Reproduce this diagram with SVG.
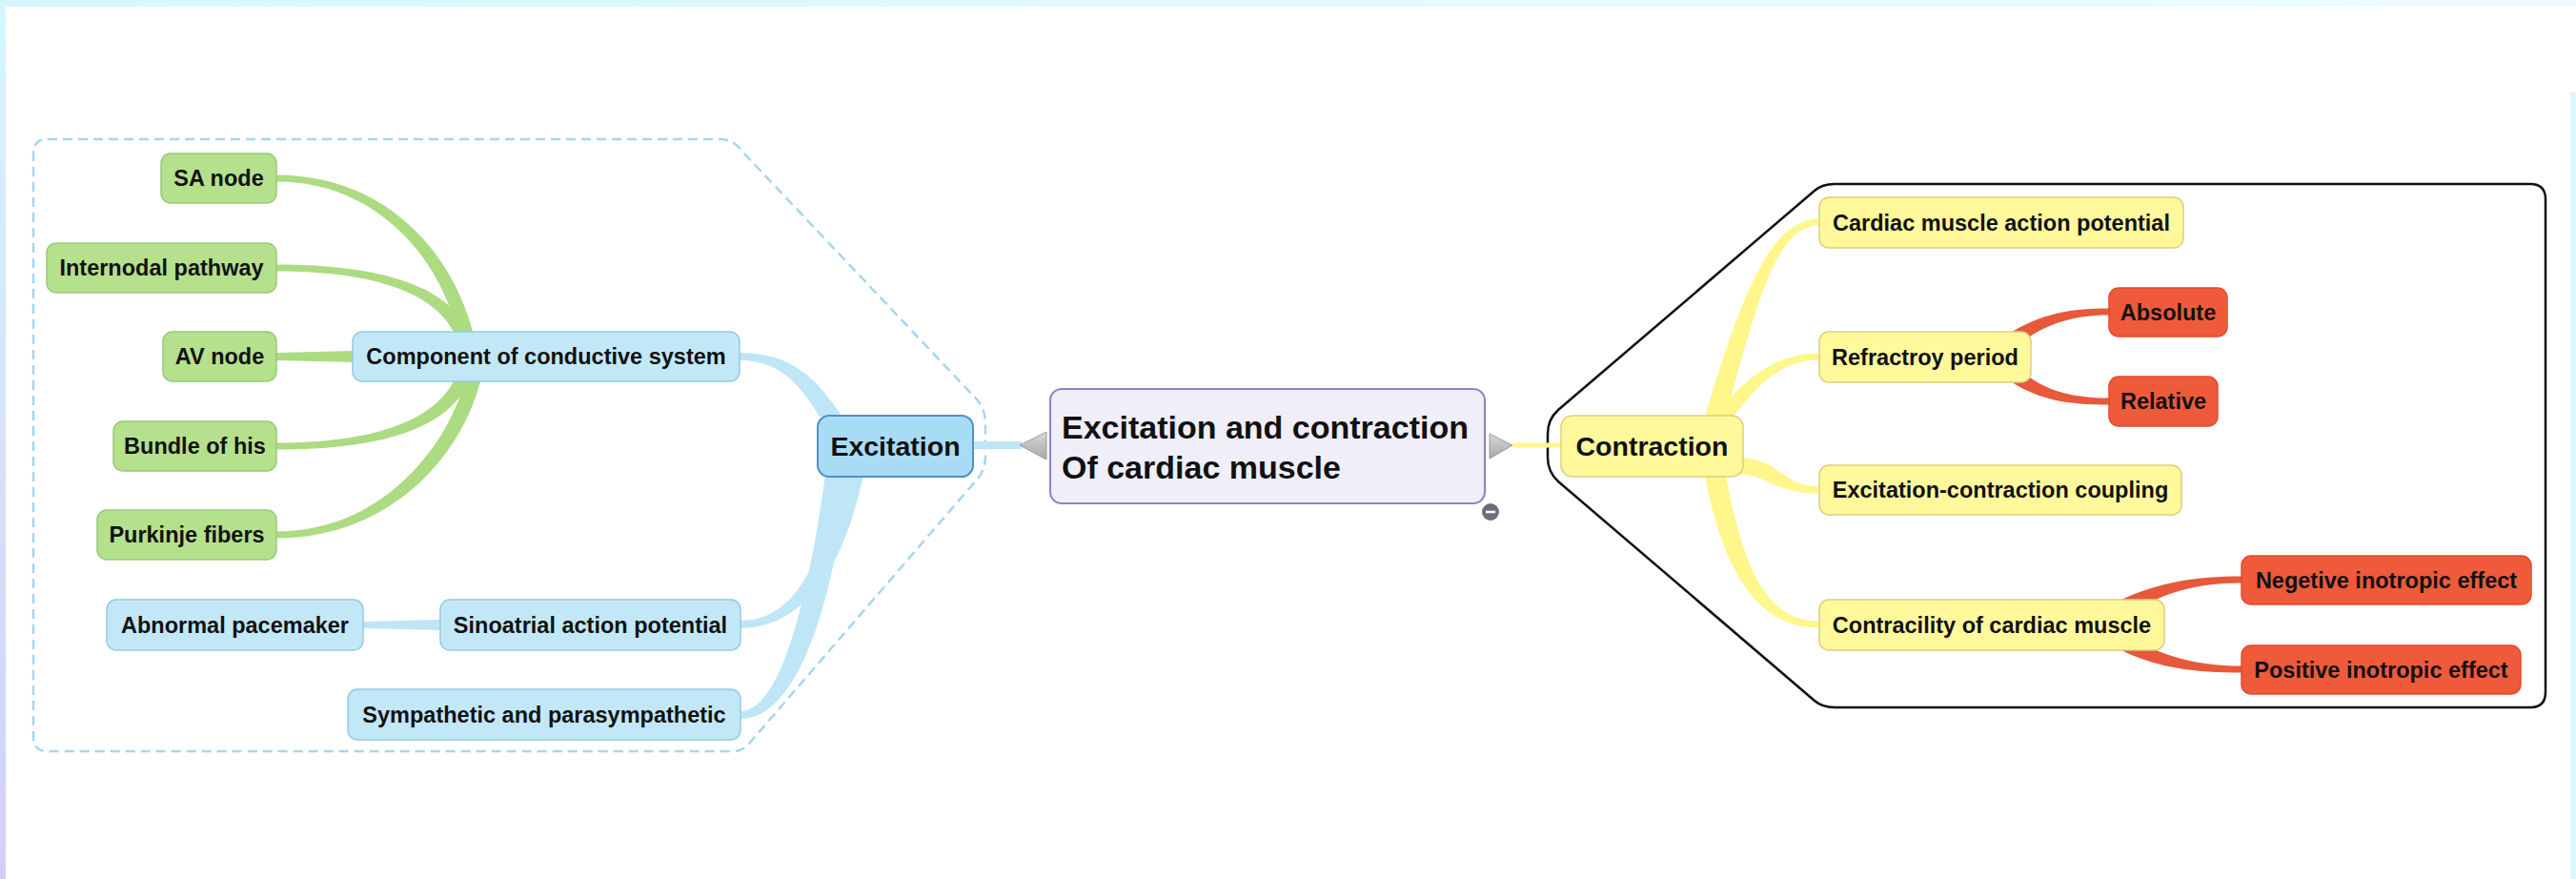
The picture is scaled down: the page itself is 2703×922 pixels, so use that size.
<svg xmlns="http://www.w3.org/2000/svg" width="2703" height="922" viewBox="0 0 2703 922">
<defs>
<linearGradient id="leftEdge" x1="0" y1="0" x2="0" y2="1"><stop offset="0" stop-color="#d6f6ff"/><stop offset="1" stop-color="#d2cff5"/></linearGradient>
<linearGradient id="topEdge" x1="0" y1="0" x2="1" y2="0"><stop offset="0" stop-color="#d6f6ff"/><stop offset="1" stop-color="#eefcff"/></linearGradient>
<linearGradient id="tri" x1="0" y1="0" x2="0" y2="1"><stop offset="0" stop-color="#d8d8d8"/><stop offset="1" stop-color="#a8a8a8"/></linearGradient>
<style>
.t{font-family:"Liberation Sans",Arial,sans-serif;font-weight:bold;fill:#111;text-anchor:middle;dominant-baseline:central}
.s{font-size:23.5px}
.green{fill:#b5e08c;stroke:#98c97a;stroke-width:1.5}
.blue{fill:#c2e8f7;stroke:#93cbe0;stroke-width:1.5}
.yellow{fill:#fff99c;stroke:#e0cd7c;stroke-width:1.5}
.red{fill:#ee5a3a;stroke:#e44a2d;stroke-width:1.5}
.cg{fill:#acdb82}
.cb{fill:#bfe6f6}
.cy{fill:#fff68c}
.cr{fill:#e8583a}
</style>
</defs>
<rect width="2703" height="922" fill="#ffffff"/>
<rect x="0" y="0" width="2703" height="7" fill="url(#topEdge)"/>
<rect x="0" y="0" width="6" height="922" fill="url(#leftEdge)"/>
<rect x="2697" y="97" width="6" height="825" fill="#dcf8fc"/>

<g id="boundaries">
<path d="M50,146 L755,146 Q770,146 778,158 L1026,420 Q1034,430 1034,445 L1034,478 Q1034,492 1026,502 L786,780 Q780,788 768,788 L50,788 Q35,788 35,773 L35,161 Q35,146 50,146 Z" fill="none" stroke="#a6d6ee" stroke-width="2.5" stroke-dasharray="10,6"/>
<path d="M1925,193 L2655,193 Q2671,193 2671,209 L2671,726 Q2671,742 2655,742 L1925,742 Q1912,742 1904,735 L1635,505 Q1624,495 1624,480 L1624,455 Q1624,440 1635,430 L1904,200 Q1912,193 1925,193 Z" fill="none" stroke="#111" stroke-width="2.5"/>
</g>

<g id="connectors">
<path class="cg" d="M290,183.5 C409,183.5 476,270 496,348 L480,348 C462,275 399,190.5 290,190.5 Z"/>
<path class="cg" d="M290,277.5 C400,277.5 470,300 492,348 L476,348 C455,308 395,284.5 290,284.5 Z"/>
<path class="cg" d="M290,370 L372,368 L372,380 L290,378 Z"/>
<path class="cg" d="M290,464.5 C395,464.5 455,440 476,400 L492,400 C470,450 400,471.5 290,471.5 Z"/>
<path class="cg" d="M290,557.5 C400,557.5 468,470 488,400 L504,400 C484,478 410,564.5 290,564.5 Z"/>
<path class="cb" d="M776,370 C830,370 855,395 884,437 L860,437 C840,405 820,378 776,378 Z"/>
<path class="cb" d="M777,651 C830,651 860,600 882,498 L906,498 C885,600 840,659 777,659 Z"/>
<path class="cb" d="M777,746 C815,746 845,650 866,498 L890,498 C870,660 830,754 777,754 Z"/>
<path class="cb" d="M381,652 L462,650 L462,661 L381,659 Z"/>
<path class="cb" d="M1021,463 L1072,463 L1072,471 L1021,471 Z"/>
<path class="cy" d="M1587,464.5 L1638,464.5 L1638,469.5 L1587,469.5 Z"/>
<path class="cy" d="M1909,229.5 C1860,229.5 1830,300 1789,437 L1811,437 C1845,310 1865,236.5 1909,236.5 Z"/>
<path class="cy" d="M1909,370.5 C1860,370.5 1830,400 1797,437 L1819,437 C1840,410 1865,377.5 1909,377.5 Z"/>
<path class="cy" d="M1826,480 C1870,482 1870,510.5 1909,510.5 L1909,517.5 C1862,517.5 1858,500 1826,497 Z"/>
<path class="cy" d="M1909,651.5 C1855,651.5 1830,600 1811,499 L1789,499 C1810,610 1850,658.5 1909,658.5 Z"/>
<path class="cr" d="M2213,323.5 C2170,323.5 2140,330 2108,350 L2130,353 C2150,340 2175,330.5 2213,330.5 Z"/>
<path class="cr" d="M2213,417.5 C2175,417.5 2150,410 2130,396 L2108,399 C2140,420 2170,424.5 2213,424.5 Z"/>
<path class="cr" d="M2352,604.5 C2300,604.5 2260,612 2222,631 L2258,631 C2280,620 2310,611.5 2352,611.5 Z"/>
<path class="cr" d="M2352,698.5 C2310,698.5 2280,690 2258,680 L2222,680 C2260,700 2300,705.5 2352,705.5 Z"/>
<polygon points="1070,467 1098,453 1098,482" fill="url(#tri)" stroke="#9a9a9a" stroke-width="1"/>
<polygon points="1587,467 1563,455 1563,481" fill="url(#tri)" stroke="#9a9a9a" stroke-width="1"/>
</g>

<g id="central">
<rect x="1102" y="408" width="456" height="120" rx="12" fill="#efeef9" stroke="#8a83c9" stroke-width="2"/>
<text class="t" x="1114" y="448" font-size="34" style="text-anchor:start">Excitation and contraction</text>
<text class="t" x="1114" y="490" font-size="34" style="text-anchor:start">Of cardiac muscle</text>
<circle cx="1564" cy="537" r="9" fill="#6e6e7a"/>
<line x1="1559" y1="537" x2="1569" y2="537" stroke="#fff" stroke-width="2.5"/>
</g>

<g id="excitation">
<rect x="858" y="436" width="163" height="64" rx="12" fill="#a8dcf5" stroke="#4a90d0" stroke-width="2"/>
<text class="t" x="939.5" y="468" font-size="28.5">Excitation</text>
</g>
<g id="contraction">
<rect x="1638" y="436" width="191" height="64" rx="12" fill="#fff99c" stroke="#e0cd7c" stroke-width="1.5"/>
<text class="t" x="1733.5" y="468" font-size="28.5">Contraction</text>
</g>

<g id="sa-node"><rect class="green" x="169" y="161" width="121" height="52" rx="10"/><text class="t s" x="229.5" y="187">SA node</text></g>
<g id="internodal-pathway"><rect class="green" x="49" y="255" width="241" height="52" rx="10"/><text class="t s" x="169.5" y="281">Internodal pathway</text></g>
<g id="av-node"><rect class="green" x="171" y="348" width="119" height="52" rx="10"/><text class="t s" x="230.5" y="374">AV node</text></g>
<g id="bundle-of-his"><rect class="green" x="119" y="442" width="171" height="52" rx="10"/><text class="t s" x="204.5" y="468">Bundle of his</text></g>
<g id="purkinje-fibers"><rect class="green" x="102" y="535" width="188" height="52" rx="10"/><text class="t s" x="196" y="561">Purkinje fibers</text></g>

<g id="component"><rect class="blue" x="370" y="348" width="406" height="52" rx="10"/><text class="t s" x="573" y="374">Component of conductive system</text></g>
<g id="abnormal-pacemaker"><rect class="blue" x="112" y="629" width="269" height="53" rx="10"/><text class="t s" x="246.5" y="655.5">Abnormal pacemaker</text></g>
<g id="sinoatrial"><rect class="blue" x="462" y="629" width="315" height="53" rx="10"/><text class="t s" x="619.5" y="655.5">Sinoatrial action potential</text></g>
<g id="sympathetic"><rect class="blue" x="365" y="723" width="412" height="53" rx="10"/><text class="t s" x="571" y="749.5">Sympathetic and parasympathetic</text></g>

<g id="cardiac-ap"><rect class="yellow" x="1909" y="207" width="382" height="53" rx="10"/><text class="t s" x="2100" y="233.5">Cardiac muscle action potential</text></g>
<g id="refractory"><rect class="yellow" x="1909" y="348" width="222" height="53" rx="10"/><text class="t s" x="2020" y="374.5">Refractroy period</text></g>
<g id="absolute"><rect class="red" x="2213" y="302" width="124" height="51" rx="10"/><text class="t s" x="2275" y="327.5">Absolute</text></g>
<g id="relative"><rect class="red" x="2213" y="395" width="114" height="52" rx="10"/><text class="t s" x="2270" y="421">Relative</text></g>
<g id="ec-coupling"><rect class="yellow" x="1909" y="488" width="380" height="52" rx="10"/><text class="t s" x="2099" y="514">Excitation-contraction coupling</text></g>
<g id="contracility"><rect class="yellow" x="1909" y="629" width="362" height="53" rx="10"/><text class="t s" x="2090" y="655.5">Contracility of cardiac muscle</text></g>
<g id="negative"><rect class="red" x="2352" y="583" width="304" height="51" rx="10"/><text class="t s" x="2504" y="608.5">Negetive inotropic effect</text></g>
<g id="positive"><rect class="red" x="2352" y="677" width="293" height="51" rx="10"/><text class="t s" x="2498.5" y="702.5">Positive inotropic effect</text></g>
</svg>
